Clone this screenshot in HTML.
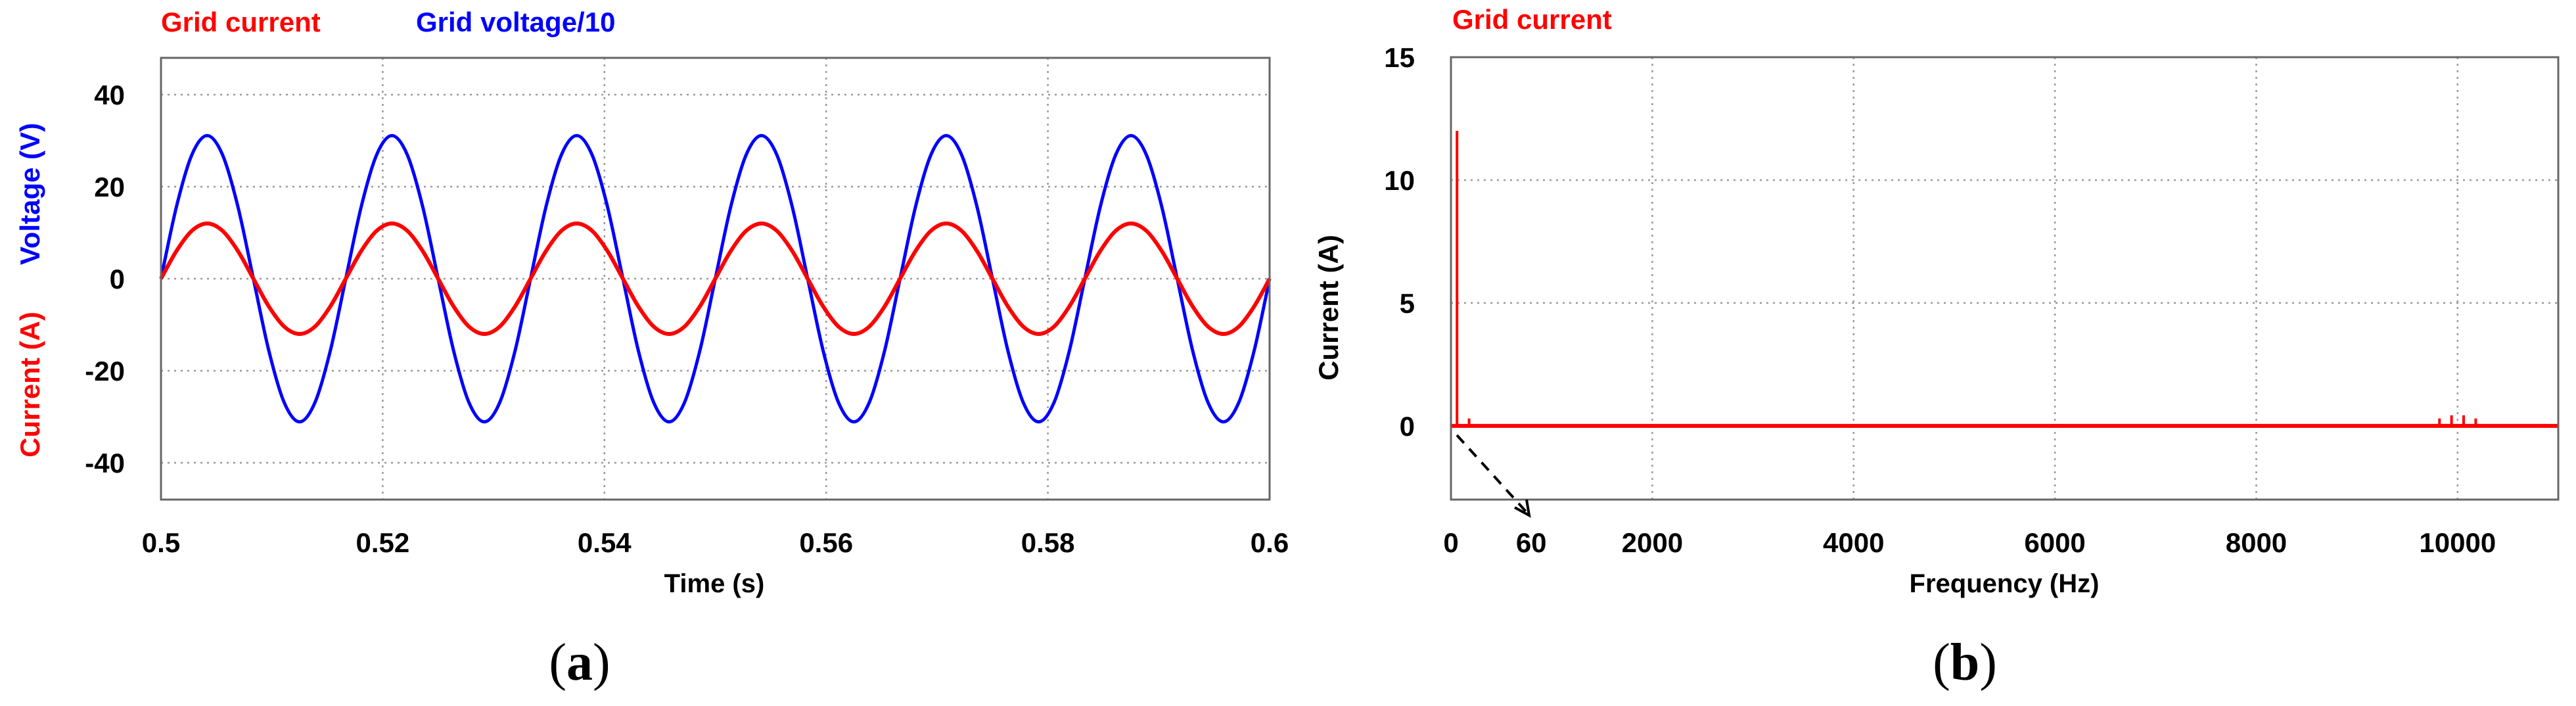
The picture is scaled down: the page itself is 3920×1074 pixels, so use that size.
<!DOCTYPE html>
<html><head><meta charset="utf-8">
<style>
html,body{margin:0;padding:0;background:#fff;}
svg{display:block;}
text{font-family:"Liberation Sans",sans-serif;font-weight:bold;}
</style></head>
<body>
<svg id="fig" width="3920" height="1074" viewBox="0 0 3920 1074" xmlns="http://www.w3.org/2000/svg">
  <g id="chartA"></g>
  <g id="chartB"></g>
  <text x="882" y="1034" text-anchor="middle" font-size="80" style="font-family:'Liberation Serif',serif;font-weight:normal">(<tspan font-weight="bold">a</tspan>)</text>
  <text x="2990" y="1034" text-anchor="middle" font-size="80" style="font-family:'Liberation Serif',serif;font-weight:normal">(<tspan font-weight="bold">b</tspan>)</text>
</svg>
<script>
// ---- Chart A data ----
const timeStart = 0.5;
const timeStep = 1/720;
const voltageValues = [0,15.6,26.9,31.1,26.9,15.6,0,-15.6,-26.9,-31.1,-26.9,-15.6,
0,15.6,26.9,31.1,26.9,15.6,0,-15.6,-26.9,-31.1,-26.9,-15.6,
0,15.6,26.9,31.1,26.9,15.6,0,-15.6,-26.9,-31.1,-26.9,-15.6,
0,15.6,26.9,31.1,26.9,15.6,0,-15.6,-26.9,-31.1,-26.9,-15.6,
0,15.6,26.9,31.1,26.9,15.6,0,-15.6,-26.9,-31.1,-26.9,-15.6,
0,15.6,26.9,31.1,26.9,15.6,0,-15.6,-26.9,-31.1,-26.9,-15.6,0];
const currentValues = [0,6,10.4,12,10.4,6,0,-6,-10.4,-12,-10.4,-6,
0,6,10.4,12,10.4,6,0,-6,-10.4,-12,-10.4,-6,
0,6,10.4,12,10.4,6,0,-6,-10.4,-12,-10.4,-6,
0,6,10.4,12,10.4,6,0,-6,-10.4,-12,-10.4,-6,
0,6,10.4,12,10.4,6,0,-6,-10.4,-12,-10.4,-6,
0,6,10.4,12,10.4,6,0,-6,-10.4,-12,-10.4,-6,0];
const xTicksA = [0.5,0.52,0.54,0.56,0.58,0.6];
const xTickLabelsA = ["0.5","0.52","0.54","0.56","0.58","0.6"];
const yTicksA = [40,20,0,-20,-40];
const yTickLabelsA = ["40","20","0","-20","-40"];
// ---- Chart B data ----
const harmonicFreqs = [60,180,9700,9820,9940,10060,10180,10300];
const harmonicAmps = [12,0.3,0.05,0.3,0.43,0.43,0.3,0.05];
const xTicksB = [0,60,2000,4000,6000,8000,10000];
const xTickLabelsB = ["0","60","2000","4000","6000","8000","10000"];
const xGridB = [2000,4000,6000,8000,10000];
const yTicksB = [15,10,5,0];
const yTickLabelsB = ["15","10","5","0"];

const NS = "http://www.w3.org/2000/svg";
function mk(parent, tag, attrs, txt){
  const e = document.createElementNS(NS, tag);
  for (const k in attrs) e.setAttribute(k, attrs[k]);
  if (txt !== undefined) e.textContent = txt;
  parent.appendChild(e);
  return e;
}

// ===== Chart A =====
(function(){
  const g = document.getElementById('chartA');
  const L=245, R=1932, T=88, B=760;
  const xs = t => L + (t-0.5)/(0.1)*(R-L);
  const ys = v => T + (48-v)/96*(B-T);
  xTicksA.forEach((t,i)=>{
    if (i>0 && i<xTicksA.length-1){
      const gl = mk(g,'line',{x1:xs(t),x2:xs(t),y1:T,y2:B,stroke:'#999','stroke-width':2.5,'stroke-dasharray':'3,7'});
      
      
    }
    const tl = mk(g,'text',{x:xs(t),y:840,'text-anchor':'middle','font-size':42,fill:'#000'},xTickLabelsA[i]);
    
    
  });
  yTicksA.forEach((v,i)=>{
    const gl = mk(g,'line',{x1:L,x2:R,y1:ys(v),y2:ys(v),stroke:'#999','stroke-width':2.5,'stroke-dasharray':'3,7'});
    
    
    const tl = mk(g,'text',{x:190,y:ys(v)+15,'text-anchor':'end','font-size':42,fill:'#000'},yTickLabelsA[i]);
    
    
  });
  function smoothPath(vals){
    const pts = vals.map((v,i)=>[xs(timeStart+i*timeStep), ys(v)]);
    let d = `M${pts[0][0]},${pts[0][1]}`;
    for (let i=0;i<pts.length-1;i++){
      const p0=pts[Math.max(0,i-1)], p1=pts[i], p2=pts[i+1], p3=pts[Math.min(pts.length-1,i+2)];
      const c1=[p1[0]+(p2[0]-p0[0])/6, p1[1]+(p2[1]-p0[1])/6];
      const c2=[p2[0]-(p3[0]-p1[0])/6, p2[1]-(p3[1]-p1[1])/6];
      d += ` C${c1[0]},${c1[1]} ${c2[0]},${c2[1]} ${p2[0]},${p2[1]}`;
    }
    return d;
  }
  const vp = mk(g,'path',{d:smoothPath(voltageValues),fill:'none',stroke:'#0000ff','stroke-width':5});
  
  
  const cp = mk(g,'path',{d:smoothPath(currentValues),fill:'none',stroke:'#ff0000','stroke-width':6});
  
  
  const fr = mk(g,'rect',{x:L,y:T,width:R-L,height:B-T,fill:'none',stroke:'#666','stroke-width':3});
  
  
  const l1 = mk(g,'text',{x:245,y:48,'font-size':42,fill:'#ff0000'},'Grid current');
  
  
  const l2 = mk(g,'text',{x:633,y:48,'font-size':42,fill:'#0000ff'},'Grid voltage/10');
  
  
  const t1 = mk(g,'text',{transform:'translate(60,295) rotate(-90)','text-anchor':'middle','font-size':42,fill:'#0000ff'},'Voltage (V)');
  
  
  const t2 = mk(g,'text',{transform:'translate(60,585) rotate(-90)','text-anchor':'middle','font-size':42,fill:'#ff0000'},'Current (A)');
  
  
  const xt = mk(g,'text',{x:1087,y:901,'text-anchor':'middle','font-size':40,fill:'#000'},'Time (s)');
  
  
})();

// ===== Chart B =====
(function(){
  const g = document.getElementById('chartB');
  const L=2208, R=3893, T=87, B=760;
  const xs = f => L + f/11000*(R-L);
  const ys = v => T + (15-v)/18*(B-T);
  xGridB.forEach(f=>{
    const gl = mk(g,'line',{x1:xs(f),x2:xs(f),y1:T,y2:B,stroke:'#999','stroke-width':2.5,'stroke-dasharray':'3,7'});
    
    
  });
  [10,5].forEach(v=>{
    const gl = mk(g,'line',{x1:L,x2:R,y1:ys(v),y2:ys(v),stroke:'#999','stroke-width':2.5,'stroke-dasharray':'3,7'});
    
    
  });
  xTicksB.forEach((f,i)=>{
    const tx = f===60 ? xs(f)+113 : xs(f);
    const tl = mk(g,'text',{x:tx,y:840,'text-anchor':'middle','font-size':42,fill:'#000'},xTickLabelsB[i]);
    
    
  });
  yTicksB.forEach((v,i)=>{
    const tl = mk(g,'text',{x:2153,y:ys(v)+15,'text-anchor':'end','font-size':42,fill:'#000'},yTickLabelsB[i]);
    
    
  });
  const base = mk(g,'line',{x1:L,x2:R,y1:ys(0),y2:ys(0),stroke:'#ff0000','stroke-width':6});
  
  
  harmonicFreqs.forEach((f,i)=>{
    const b = mk(g,'line',{x1:xs(f),x2:xs(f),y1:ys(0),y2:ys(harmonicAmps[i]),stroke:'#ff0000','stroke-width':4});
    
    
  });
  const fr = mk(g,'rect',{x:L,y:T,width:R-L,height:B-T,fill:'none',stroke:'#666','stroke-width':3});
  
  
  const ar = mk(g,'line',{x1:2217,y1:662,x2:2322,y2:778,stroke:'#000','stroke-width':4,'stroke-dasharray':'16,12'});
  
  
  const ah = mk(g,'path',{d:'M2305,772 L2327,784 L2323,760',fill:'none',stroke:'#000','stroke-width':4});
  
  
  const lg = mk(g,'text',{x:2210,y:44,'font-size':42,fill:'#ff0000'},'Grid current');
  
  
  const yt = mk(g,'text',{transform:'translate(2036,468) rotate(-90)','text-anchor':'middle','font-size':42,fill:'#000'},'Current (A)');
  
  
  const xt = mk(g,'text',{x:3050,y:901,'text-anchor':'middle','font-size':40,fill:'#000'},'Frequency (Hz)');
  
  
})();
</script>
</body></html>
